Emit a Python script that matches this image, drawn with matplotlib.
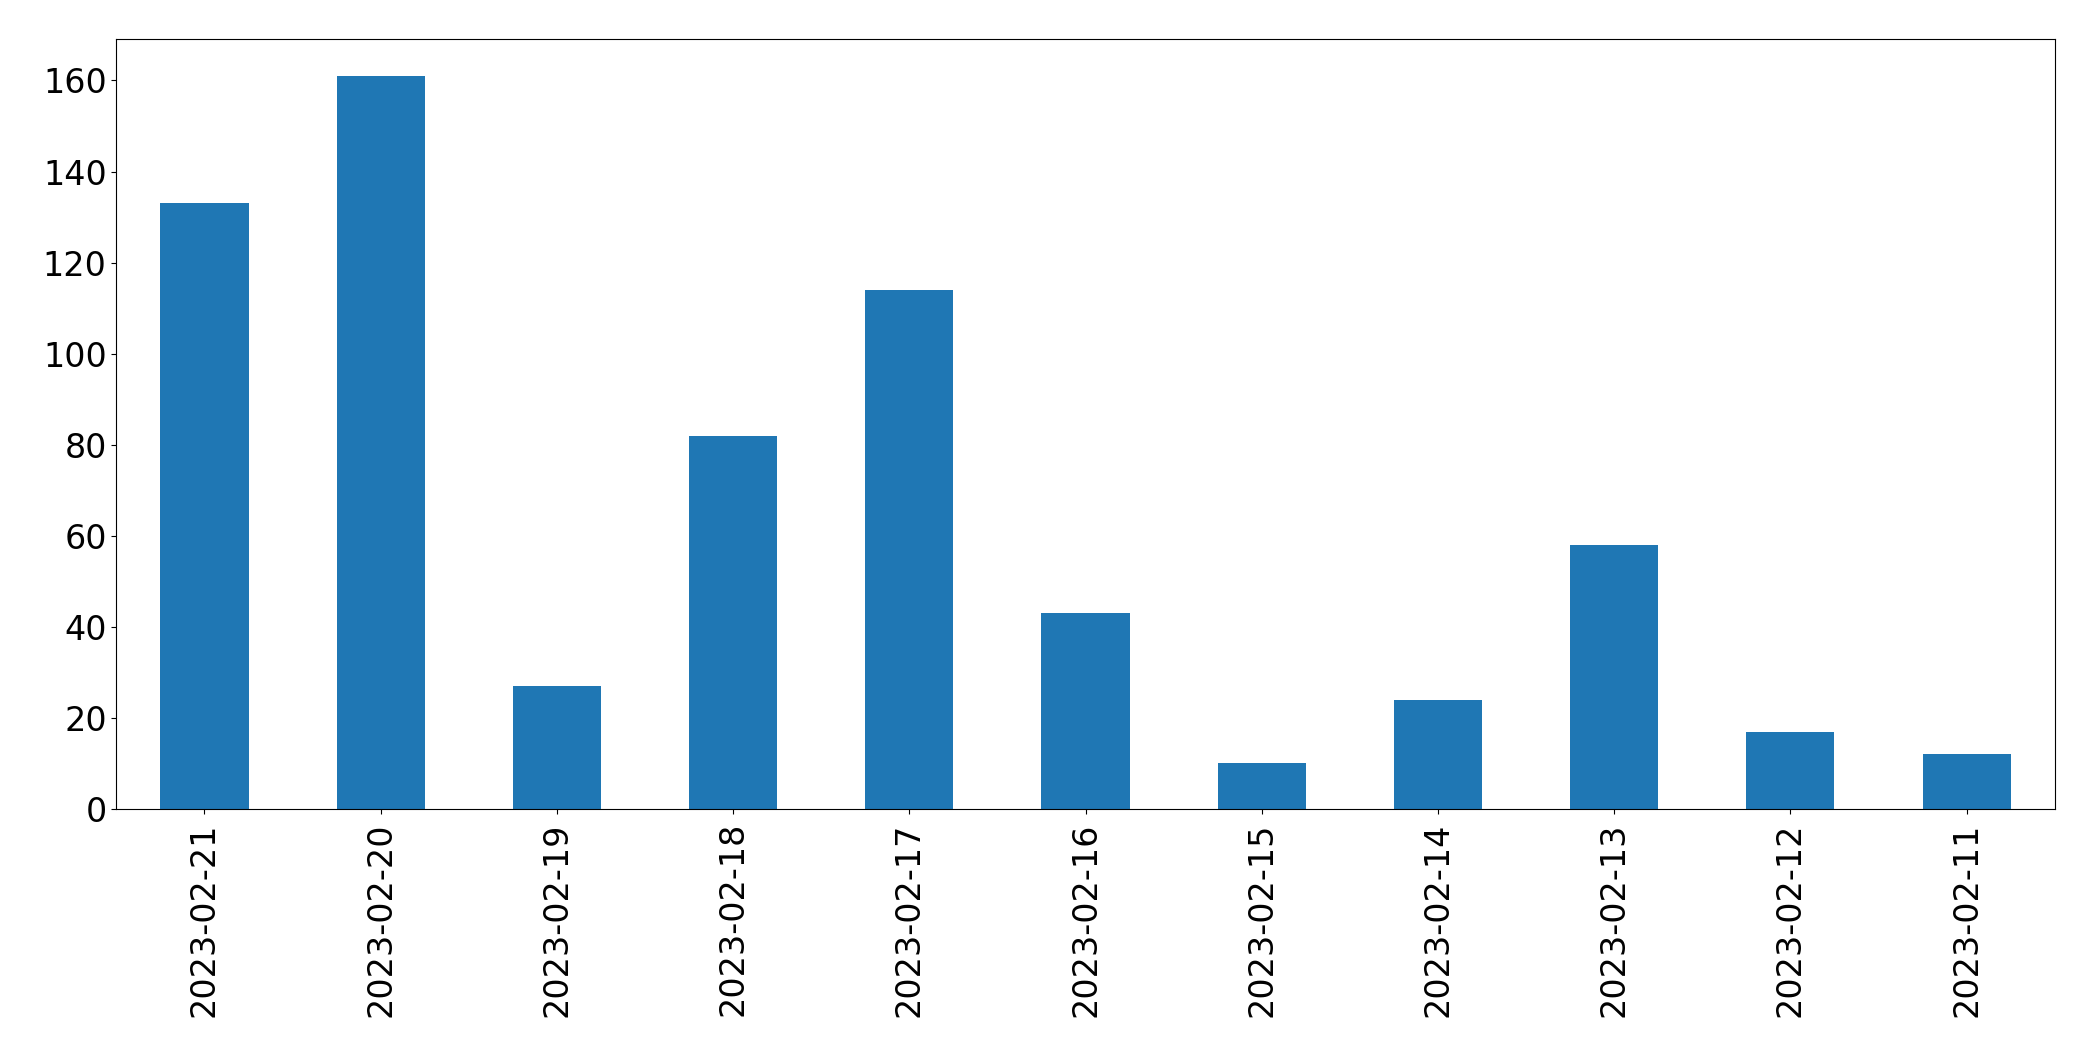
import matplotlib
matplotlib.use("Agg")
import matplotlib.pyplot as plt
import pandas as pd

dates = ["2023-02-21", "2023-02-20", "2023-02-19", "2023-02-18", "2023-02-17",
         "2023-02-16", "2023-02-15", "2023-02-14", "2023-02-13", "2023-02-12",
         "2023-02-11"]
counts = [133, 161, 27, 82, 114, 43, 10, 24, 58, 17, 12]

s = pd.Series(counts, index=dates)

fig, ax = plt.subplots(figsize=(20.93, 10.61), dpi=100)
s.plot(kind="bar", ax=ax, color="#1f77b4")
ax.tick_params(axis="both", labelsize=24)
ax.tick_params(axis="x", pad=6)
plt.subplots_adjust(left=0.0556, right=0.9817, top=0.963, bottom=0.2375)
fig.savefig("out.png", dpi=100)
